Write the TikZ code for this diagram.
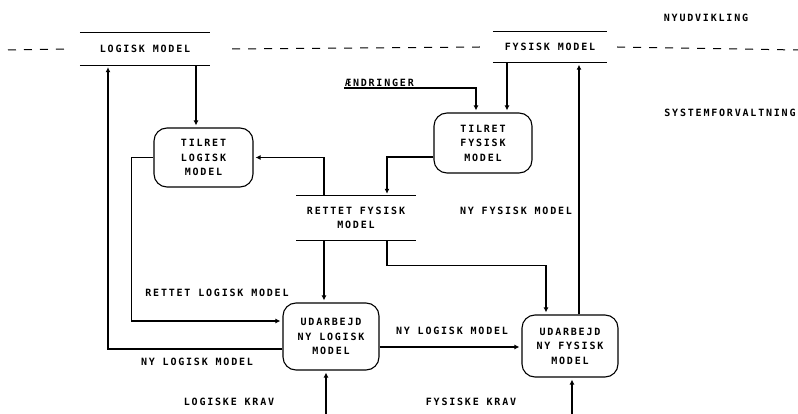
\documentclass[tikz,border=0pt]{standalone}
\usepackage{fontspec}
\usetikzlibrary{arrows.meta, positioning, calc}
\newfontfamily\pixfont[LetterSpace=18]{DejaVu Sans Mono}

\begin{document}
\begin{tikzpicture}[
    x=1pt, y=-1pt,
    every node/.style={font={\pixfont\bfseries\fontsize{10}{14.5}\selectfont}},
    proc/.style={draw, line width=1.1pt, rounded corners=13pt, align=center, inner sep=0pt},
    store/.style={align=center, inner sep=0pt},
    lbl/.style={inner sep=1pt},
    arr/.style={-{Latex[length=5pt,width=5pt]}, line width=1.1pt, shorten >=2pt},
    bar/.style={line width=1.1pt},
    split/.style={line width=1pt, dash pattern=on 8pt off 8pt}
]
\useasboundingbox (0,0) rectangle (798,414);

% Data stores
\node[store, minimum width=130pt, minimum height=32pt] (lm) at (145,49) {LOGISK MODEL};
\node[store, minimum width=114pt, minimum height=31pt] (fm) at (550,47) {FYSISK MODEL};
\node[store, minimum width=119pt, minimum height=44pt] (rf) at (356,218) {RETTET FYSISK\\MODEL};
\foreach \s in {lm, fm, rf} {
    \draw[bar] (\s.north west) -- (\s.north east);
    \draw[bar] (\s.south west) -- (\s.south east);
}

% Processes
\node[proc, minimum width=99pt, minimum height=59pt] (tl) at (203.5,157.5) {TILRET\\LOGISK\\MODEL};
\node[proc, minimum width=98pt, minimum height=60pt] (tf) at (483,143) {TILRET\\FYSISK\\MODEL};
\node[proc, minimum width=96pt, minimum height=67pt] (ul) at (331,336.5) {UDARBEJD\\NY LOGISK\\MODEL};
\node[proc, minimum width=96pt, minimum height=62pt] (uf) at (570,346) {UDARBEJD\\NY FYSISK\\MODEL};

% Boundary between the two phases
\draw[split] (8,50) -- ([xshift=-12pt]lm.west);
\draw[split] ([xshift=22pt]lm.east) -- ([xshift=-13pt]fm.west);
\draw[split] ([xshift=10pt]fm.east) -- (798,50);
\node[lbl] (nyu) at (706,18) {NYUDVIKLING};
\node[lbl] (sys) at (730,113) {SYSTEMFORVALTNING};

% Flows
\node[lbl, anchor=south west] (aen) at (344,88) {ÆNDRINGER};
\draw[arr] (aen.south west) -| ([xshift=-7pt]tf.north);
\draw[arr] ([xshift=-43pt]fm.south) -- ([xshift=-43pt]fm.south |- tf.north);
\draw[arr] ([xshift=51pt]lm.south) -- ([xshift=51pt]lm.south |- tl.north);
\draw[arr] ([yshift=-14pt]tf.west) -| ([xshift=31pt]rf.north);
\draw[arr] ([xshift=-32pt]rf.north) |- (tl.east);
\draw[arr] (tl.west) -- ++(-22,0) |- ([yshift=15.5pt]ul.west);
\draw[arr] ([yshift=-12.5pt]ul.west) -| ([xshift=-37pt]lm.south);
\draw[arr] ([xshift=-32pt]rf.south) -- ([xshift=-32pt]rf.south |- ul.north);
\draw[arr] ([xshift=31pt]rf.south) -- ++(0,25) -| ([xshift=-24pt]uf.north);
\draw[arr] ([yshift=-10.5pt]ul.east) -- ([yshift=-10.5pt]ul.east -| uf.west);
\draw[arr] ([xshift=9pt]uf.north) -- ([xshift=9pt]uf.north |- fm.south);

% Requirements from outside
\coordinate (lk) at (326,414);
\coordinate (fk) at (572,414);
\draw[arr] (lk) -- (lk |- ul.south);
\draw[arr] (fk) -- (fk |- uf.south);

% Flow labels
\node[lbl] (rlm) at (217,293) {RETTET LOGISK MODEL};
\node[lbl] (nlm1) at (197,362) {NY LOGISK MODEL};
\node[lbl] (nlm2) at (452,331) {NY LOGISK MODEL};
\node[lbl] (nfm) at (516,211) {NY FYSISK MODEL};
\node[lbl] (lkr) at (229,402) {LOGISKE KRAV};
\node[lbl] (fkr) at (471,402) {FYSISKE KRAV};

\end{tikzpicture}
\end{document}
